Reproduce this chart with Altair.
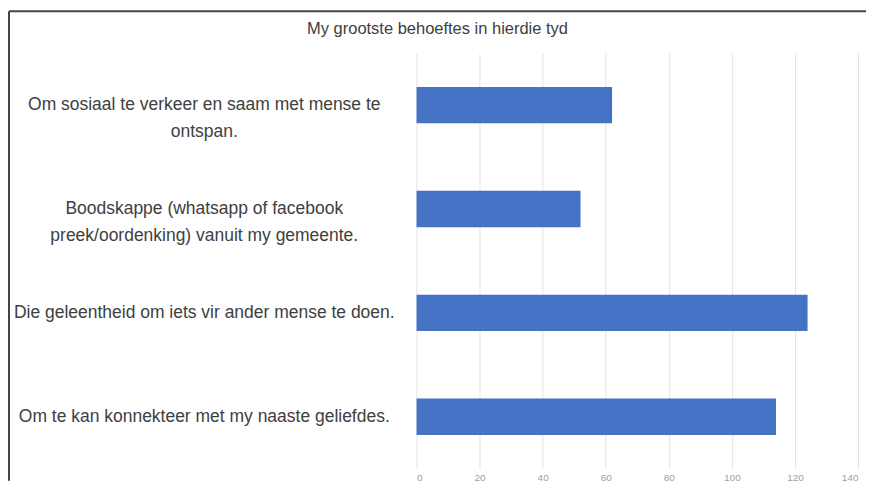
import altair as alt
import pandas as pd

categories = [
    "Om sosiaal te verkeer en saam met mense te|ontspan.",
    "Boodskappe (whatsapp of facebook|preek/oordenking) vanuit my gemeente.",
    "Die geleentheid om iets vir ander mense te doen.",
    "Om te kan konnekteer met my naaste geliefdes.",
]
values = [62, 52, 124, 114]
x_ticks = [0, 20, 40, 60, 80, 100, 120, 140]

df = pd.DataFrame({"need": categories, "count": values})
frame_df = pd.DataFrame({"k": [0]})

bars = alt.Chart(df).mark_bar(color="#4472C4").encode(
    x=alt.X("count:Q",
            scale=alt.Scale(domain=[0, 140], nice=False),
            axis=alt.Axis(title=None, values=x_ticks, grid=True, gridColor="#e3e3e3",
                          domain=False, ticks=False, labelColor="#a0a0a0",
                          labelFontSize=10, labelPadding=4)),
    y=alt.Y("need:N", sort=None,
            scale=alt.Scale(paddingInner=0.65, paddingOuter=0.325),
            axis=alt.Axis(title=None, domain=False, ticks=False,
                          labelExpr="split(datum.label, '|')",
                          labelAlign="center", labelPadding=213,
                          labelLimit=700, labelFontSize=17.5,
                          labelLineHeight=27, labelColor="#404040")),
)

top_line = alt.Chart(frame_df).mark_rule(color="#444444", strokeWidth=2).encode(
    x=alt.value(-408), x2=alt.value(450), y=alt.value(-42)
)
left_line = alt.Chart(frame_df).mark_rule(color="#444444", strokeWidth=2).encode(
    x=alt.value(-408), y=alt.value(-42), y2=alt.value(428)
)

chart = alt.layer(bars, top_line, left_line).properties(
    width=442,
    height=416,
    title=alt.TitleParams("My grootste behoeftes in hierdie tyd", fontSize=16.5,
                          fontWeight="normal", color="#404040", offset=-27,
                          anchor="middle", frame="bounds"),
    padding={"top": 2, "left": 0, "right": 0, "bottom": 2},
).configure(
    font="Liberation Sans",
).configure_view(stroke=None)

chart.save("out.html", embed_options={"renderer": "svg", "actions": False})
